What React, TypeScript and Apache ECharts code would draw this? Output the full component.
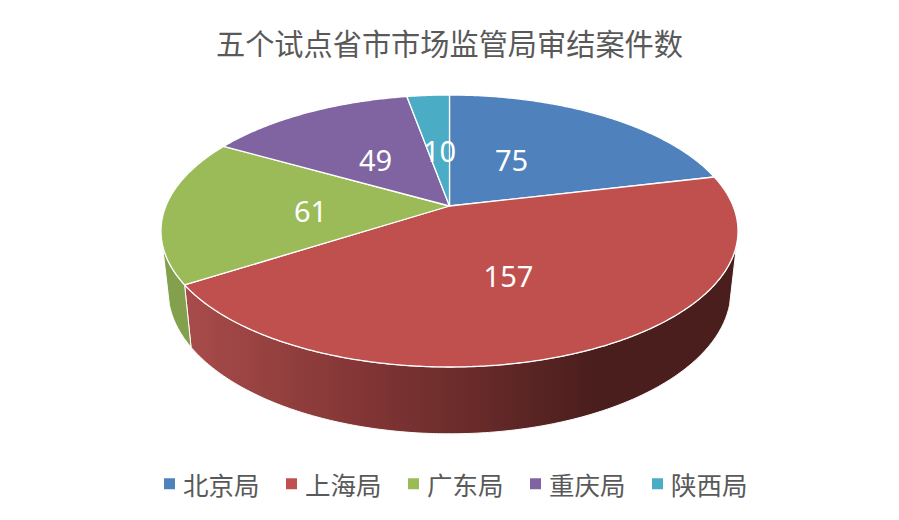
import React, { useEffect, useRef } from "react";
import * as echarts from "echarts";

const TITLE = "五个试点省市市场监管局审结案件数";
const categories = ["北京局", "上海局", "广东局", "重庆局", "陕西局"];
const values = [75, 157, 61, 49, 10];
const colors = ["#4f81bd", "#c0504d", "#9bbb59", "#8064a2", "#4bacc6"];
const labelOffsets = [[62, -47], [59, 69], [-139, 4], [-74, -47], [-10, -56]];

const TOTAL = values.reduce((a, b) => a + b, 0);
const KEEP = 0.1838;
const TOP = { cx: 449.5, cy: 206, a: 283.6, b: 131.4 };
const BOTTOM = { cx: 449.5, cy: 264, a: 276.7, b: 138.6 };
const WALL_FROM = 106;
const WALL_TO = 254;

function project(p: typeof TOP, deg: number): number[] {
  const t = (deg * Math.PI) / 180;
  const w = 1 + KEEP * Math.cos(t);
  return [p.cx + (p.a * Math.sin(t)) / w, p.cy - (p.b * Math.cos(t)) / w];
}

function arc(p: typeof TOP, from: number, to: number): number[][] {
  const n = Math.max(2, Math.ceil(Math.abs(to - from) * 2));
  const out: number[][] = [];
  for (let i = 0; i <= n; i++) out.push(project(p, from + ((to - from) * i) / n));
  return out;
}

function wallFill(index: number): any {
  if (index === 1) {
    return new echarts.graphic.LinearGradient(0, 0, 1, 0, [
      { offset: 0, color: "#a84c4b" },
      { offset: 0.3, color: "#843736" },
      { offset: 0.48, color: "#6e2d2c" },
      { offset: 0.74, color: "#4a1e1d" },
      { offset: 1, color: "#4a1e1d" },
    ]);
  }
  return "#83a14d";
}

function makeRenderItem(index: number) {
  return (_params: any, api: any) => {
    const before = values.slice(0, index).reduce((a, b) => a + b, 0);
    const start = (before / TOTAL) * 360;
    const end = start + (api.value(0) / TOTAL) * 360;
    const children: any[] = [];
    const wa = Math.max(start, WALL_FROM);
    const wb = Math.min(end, WALL_TO);
    if (wb > wa) {
      children.push({
        type: "polygon",
        shape: { points: [...arc(TOP, wa, wb), ...arc(BOTTOM, wb, wa)] },
        style: { fill: wallFill(index), stroke: "#ffffff", lineWidth: 1 },
      });
    }
    children.push({
      type: "polygon",
      shape: { points: [[TOP.cx, TOP.cy], ...arc(TOP, start, end)] },
      style: { fill: colors[index], stroke: "#ffffff", lineWidth: 1.3, lineJoin: "round" },
    });
    children.push({
      type: "text",
      z2: 50,
      style: {
        x: TOP.cx + labelOffsets[index][0],
        y: TOP.cy + labelOffsets[index][1],
        text: String(api.value(0)),
        fill: "#ffffff",
        font: '29px "Noto Sans"',
        align: "center",
        verticalAlign: "middle",
      },
    });
    return { type: "group", children };
  };
}

export default function App() {
  const ref = useRef<HTMLDivElement>(null);
  useEffect(() => {
    document.body.style.margin = "0";
    const chart = echarts.init(ref.current!, null, { renderer: "svg" });
    chart.setOption({
      animation: false,
      backgroundColor: "#ffffff",
      title: {
        text: TITLE,
        left: "center",
        top: 22,
        textStyle: { color: "#595959", fontSize: 29.2, fontWeight: "normal", fontFamily: "Noto Sans CJK SC" },
      },
      legend: {
        left: 159,
        top: 466,
        icon: "rect",
        itemWidth: 11,
        itemHeight: 11,
        itemGap: 26.5,
        selectedMode: false,
        data: categories,
        textStyle: { color: "#595959", fontSize: 25.5, fontFamily: "Noto Sans CJK SC", padding: [0, 0, 0, 3] },
      },
      series: categories.map((name, i) => ({
        type: "custom",
        name,
        coordinateSystem: "none",
        silent: true,
        itemStyle: { color: colors[i] },
        data: [[values[i]]],
        renderItem: makeRenderItem(i),
      })),
    });
    return () => chart.dispose();
  }, []);
  return <div ref={ref} style={{ width: 899, height: 520 }} />;
}
